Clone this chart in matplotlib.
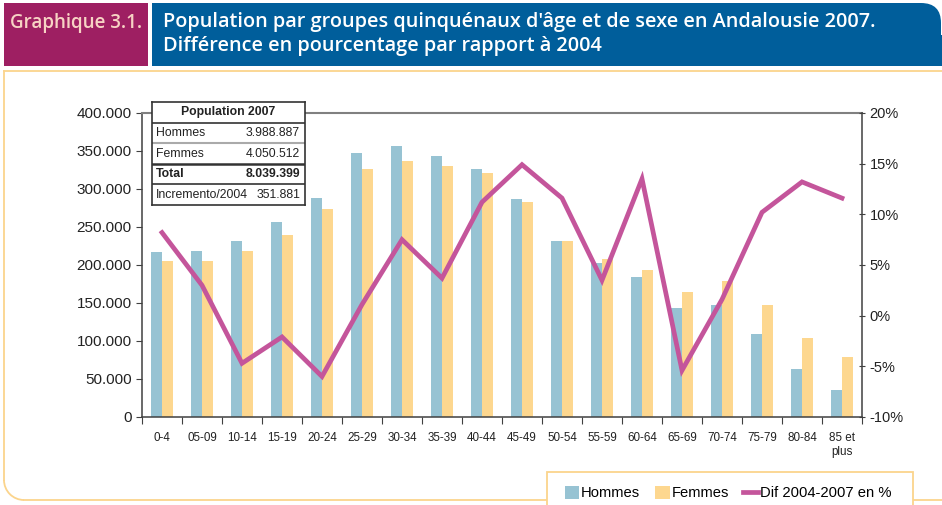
import numpy as np
import matplotlib
matplotlib.use("Agg")
import matplotlib.pyplot as plt
from matplotlib.patches import Rectangle, FancyBboxPatch, Arc
from matplotlib.ticker import FuncFormatter, FixedLocator

plt.rcParams["font.family"] = ["Liberation Sans", "DejaVu Sans"]

# data
groups = ["0-4", "05-09", "10-14", "15-19", "20-24", "25-29", "30-34", "35-39",
          "40-44", "45-49", "50-54", "55-59", "60-64", "65-69", "70-74", "75-79",
          "80-84", "85 et\nplus"]
hommes = [217000, 219000, 231000, 256000, 288000, 347000, 356000, 343000, 326000,
          287000, 232000, 202000, 184000, 144000, 147000, 109000, 63000, 35000]
femmes = [205000, 205000, 219000, 240000, 274000, 326000, 337000, 330000, 321000,
          283000, 232000, 208000, 194000, 164000, 179000, 148000, 104000, 79000]
dif_pct = [8.2, 3.0, -4.7, -2.1, -6.0, 1.1, 7.5, 3.7, 11.2, 14.9, 11.6, 3.5, 13.5,
           -5.4, 1.6, 10.2, 13.2, 11.6]

table_rows = [("Hommes", "3.988.887"), ("Femmes", "4.050.512"),
              ("Total", "8.039.399"), ("Incremento/2004", "351.881")]

c_h = "#97c3d3"
c_f = "#fdd78f"
c_line = "#c4559b"
c_orange = "#fbd48c"
c_blue = "#005e9b"
c_mag = "#9e1f62"

W, H = 942, 505
fig = plt.figure(figsize=(W / 100, H / 100), dpi=100)

# background / frame in pixel coords
bg = fig.add_axes([0, 0, 1, 1], zorder=0)
bg.set_xlim(0, W)
bg.set_ylim(H, 0)
bg.axis("off")

bg.add_patch(Rectangle((4, 3), 144, 63, color=c_mag, lw=0))
bg.add_patch(FancyBboxPatch((152, 3), 789, 63, boxstyle="round,pad=0,rounding_size=20",
                            color=c_blue, lw=0))
bg.add_patch(Rectangle((152, 3), 750, 63, color=c_blue, lw=0))
bg.add_patch(Rectangle((152, 35), 790, 31, color=c_blue, lw=0))
title_font = ["Open Sans", "DejaVu Sans"]
bg.text(76, 23, "Graphique 3.1.", color="#f7d3c4", fontsize=13.5, ha="center", va="center",
        weight="semibold", family=title_font)
bg.text(163, 22, "Population par groupes quinquénaux d'âge et de sexe en Andalousie 2007.",
        color="white", fontsize=14.3, ha="left", va="center", weight="semibold",
        family=title_font)
bg.text(163, 46, "Différence en pourcentage par rapport à 2004",
        color="white", fontsize=14.3, ha="left", va="center", weight="semibold",
        family=title_font)

lw_fr = 1.3
bg.plot([4, W], [71, 71], color=c_orange, lw=lw_fr)
bg.plot([4, 4], [71, 480], color=c_orange, lw=lw_fr)
bg.plot([24, W], [500, 500], color=c_orange, lw=lw_fr)
bg.add_patch(Arc((24, 480), 40, 40, theta1=90, theta2=180, color=c_orange, lw=lw_fr))
bg.add_patch(Rectangle((547, 472), 366, 40, facecolor="white", edgecolor=c_orange,
                       lw=lw_fr, zorder=3))

# main chart
ax = fig.add_axes([142 / W, 1 - 417 / H, 720 / W, 304 / H], zorder=1)
ax.patch.set_visible(False)
x = np.arange(len(groups))
bw = 0.28
ax.bar(x - bw / 2, hommes, bw, color=c_h, label="Hommes", zorder=2)
ax.bar(x + bw / 2, femmes, bw, color=c_f, label="Femmes", zorder=2)
ax.set_xlim(-0.5, len(groups) - 0.5)
ax.set_ylim(0, 400000)
ax.set_yticks(np.arange(0, 400001, 50000))
ax.yaxis.set_major_formatter(FuncFormatter(lambda v, p: f"{int(v):,}".replace(",", ".")))
ax.tick_params(axis="y", labelsize=11, length=4, color="#404040", labelcolor="#222222")

ax.xaxis.set_major_locator(FixedLocator(np.arange(-0.5, len(groups), 1)))
ax.xaxis.set_minor_locator(FixedLocator(x))
ax.set_xticklabels([], minor=False)
ax.set_xticklabels(groups, minor=True, fontsize=8.4, color="#222222")
ax.tick_params(axis="x", which="major", length=5, color="#404040")
ax.tick_params(axis="x", which="minor", length=0, pad=11)

for s in ["left", "bottom"]:
    ax.spines[s].set_color("#404040")
    ax.spines[s].set_linewidth(1.1)
ax.spines["top"].set_color("#808080")
ax.spines["top"].set_linewidth(1.5)
ax.spines["right"].set_visible(False)

ax2 = ax.twinx()
ax2.set_zorder(2)
ax2.plot(x, dif_pct, color=c_line, lw=3.4, solid_joinstyle="miter",
         label="Dif 2004-2007 en %")
ax2.set_ylim(-10, 20)
ax2.set_yticks(np.arange(-10, 21, 5))
ax2.yaxis.set_major_formatter(FuncFormatter(lambda v, p: f"{int(v)}%"))
ax2.tick_params(axis="y", labelsize=10.5, length=4, direction="inout", color="#404040",
                labelcolor="#222222")
ax2.spines["right"].set_color("#404040")
ax2.spines["right"].set_linewidth(1.1)
for s in ["left", "top", "bottom"]:
    ax2.spines[s].set_visible(False)

# summary table
tab = fig.add_axes([152 / W, 1 - 205 / H, 153 / W, 103 / H], zorder=4)
tab.set_xlim(0, 153)
tab.set_ylim(5, 0)
tab.set_xticks([])
tab.set_yticks([])
tab.set_facecolor("white")
for s in tab.spines.values():
    s.set_color("#333333")
    s.set_linewidth(1.2)
tab.text(76, 0.5, "Population 2007", weight="bold", fontsize=8.8, ha="center", va="center",
         color="#222222")
sep_style = [("#333333", 1.2), ("#aaaaaa", 1.5), ("#333333", 1.8), ("#333333", 1.2)]
for i, (name, val) in enumerate(table_rows):
    wt = "bold" if name == "Total" else "normal"
    tab.text(4, i + 1.5, name, fontsize=8.8, ha="left", va="center", weight=wt,
             color="#222222")
    tab.text(148, i + 1.5, val, fontsize=8.8, ha="right", va="center", weight=wt,
             color="#222222")
    col, lw = sep_style[i]
    tab.axhline(i + 1, color=col, lw=lw)

# legend
h1, l1 = ax.get_legend_handles_labels()
h2, l2 = ax2.get_legend_handles_labels()
leg = fig.legend(h1 + h2, l1 + l2, loc="center", bbox_to_anchor=(728 / W, 1 - 493 / H),
                 ncol=3, frameon=False, fontsize=10.6, handlelength=1.0, handleheight=1.0,
                 handletextpad=0.12, columnspacing=1.0, borderaxespad=0)
leg.set_zorder(6)

fig.savefig("out.png", dpi=100)
